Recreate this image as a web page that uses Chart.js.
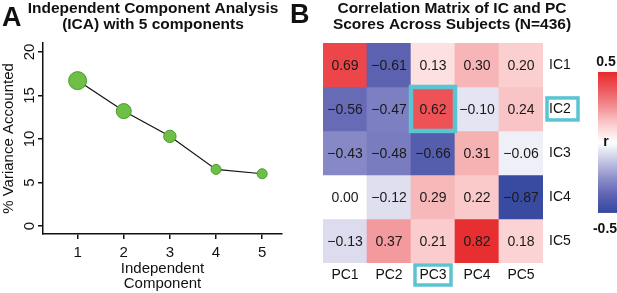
<!DOCTYPE html>
<html>
<head>
<meta charset="utf-8">
<script src="https://cdn.jsdelivr.net/npm/chart.js@4"></script>
<style>
  body { margin: 0; background: #fff; width: 617px; height: 293px; position: relative; overflow: hidden; font-family: 'Liberation Sans', Arial, sans-serif; }
  canvas { position: absolute; top: 0; }
  #icaChart { left: 0; }
  #corrChart { left: 292px; }
  .panel { position: absolute; font-weight: bold; font-size: 27px; line-height: 1; color: #111; }
</style>
</head>
<body>
<canvas id="icaChart" width="292" height="293"></canvas>
<canvas id="corrChart" width="325" height="293"></canvas>
<div class="panel" style="left:2px; top:4px">A</div>
<div class="panel" style="left:290px; top:1px">B</div>
<script>
// panel A: variance explained by each independent component
const components = [1, 2, 3, 4, 5];
const variancePct = [16.7, 13.2, 10.3, 6.5, 6.0];
const pointSizes = [9, 7.5, 6.2, 5, 5];
const xTicks = [1, 2, 3, 4, 5];
const yTicks = [0, 5, 10, 15, 20];

// panel B: correlation of IC scores (rows) with PC scores (cols)
const pcLabels = ['PC1', 'PC2', 'PC3', 'PC4', 'PC5'];
const icLabels = ['IC1', 'IC2', 'IC3', 'IC4', 'IC5'];
const ic1 = [0.69, -0.61, 0.13, 0.30, 0.20];
const ic2 = [-0.56, -0.47, 0.62, -0.10, 0.24];
const ic3 = [-0.43, -0.48, -0.66, 0.31, -0.06];
const ic4 = [0.00, -0.12, 0.29, 0.22, -0.87];
const ic5 = [-0.13, 0.37, 0.21, 0.82, 0.18];
const corrRows = [ic1, ic2, ic3, ic4, ic5];
const cbarTicks = [0.5, -0.5];
const highlightIC = 'IC2';
const highlightPC = 'PC3';

const FONT = "'Liberation Sans', Arial, sans-serif";
const INK = '#111';
Chart.defaults.font.family = FONT;
Chart.defaults.color = INK;

// palette: white at 0, red for positive r, blue for negative r
const redStops = [[0, [255, 255, 255]], [0.13, [253, 224, 224]], [0.3, [247, 181, 183]], [0.37, [242, 154, 158]], [0.62, [238, 82, 87]], [0.85, [230, 42, 44]]];
const blueStops = [[0, [255, 255, 255]], [0.13, [220, 220, 238]], [0.45, [129, 131, 196]], [0.6, [93, 98, 177]], [0.9, [52, 72, 158]]];

function corrColor(v) {
  const stops = v >= 0 ? redStops : blueStops;
  const last = stops[stops.length - 1];
  const a = Math.min(Math.abs(v), last[0]);
  for (let i = 1; i < stops.length; i++) {
    if (a <= stops[i][0]) {
      const [a0, c0] = stops[i - 1];
      const [a1, c1] = stops[i];
      const t = (a - a0) / (a1 - a0);
      return 'rgb(' + c0.map((x, k) => Math.round(x + (c1[k] - x) * t)).join(',') + ')';
    }
  }
  return 'rgb(' + last[1].join(',') + ')';
}

const titleOpts = text => ({
  display: true,
  text: text,
  font: { size: 15.5, weight: 'bold', lineHeight: 1.03 },
  color: INK,
  padding: { top: 1, bottom: 10 }
});

// R-style y tick labels, rotated to read bottom-to-top
const rotatedYTicks = {
  id: 'rotatedYTicks',
  afterDraw(chart) {
    const ys = chart.scales.y;
    const ctx = chart.ctx;
    ctx.save();
    ctx.font = '15px ' + FONT;
    ctx.fillStyle = INK;
    ctx.textAlign = 'center';
    ctx.textBaseline = 'middle';
    yTicks.forEach(v => {
      ctx.save();
      ctx.translate(ys.right - 13, ys.getPixelForValue(v));
      ctx.rotate(-Math.PI / 2);
      ctx.fillText(String(v), 0, 0);
      ctx.restore();
    });
    ctx.restore();
  }
};

new Chart(document.getElementById('icaChart'), {
  type: 'line',
  data: {
    datasets: [{
      data: components.map((c, i) => ({ x: c, y: variancePct[i] })),
      borderColor: INK,
      borderWidth: 1.2,
      tension: 0,
      pointRadius: pointSizes,
      pointBackgroundColor: '#6dbf45',
      pointBorderColor: '#4c9a2f',
      pointBorderWidth: 1
    }]
  },
  options: {
    responsive: false,
    animation: false,
    layout: { padding: { left: 21, right: 7, top: 0, bottom: 0 } },
    plugins: {
      legend: { display: false },
      tooltip: { enabled: false },
      title: titleOpts(['Independent Component Analysis', '(ICA) with 5 components'])
    },
    scales: {
      x: {
        type: 'linear',
        min: 0.25,
        max: 5.43,
        afterBuildTicks: s => { s.ticks = xTicks.map(v => ({ value: v })); },
        afterFit: s => { s.height = 59; },
        ticks: { font: { size: 15 }, color: INK, padding: 5 },
        grid: { drawOnChartArea: false, tickLength: 5, color: INK, lineWidth: 1.5 },
        border: { color: INK, width: 1.5 },
        title: { display: true, text: ['Independent', 'Component'], font: { size: 15, lineHeight: 1 }, color: INK, padding: { top: 0, bottom: 2 } }
      },
      y: {
        min: -0.92,
        max: 21.03,
        afterBuildTicks: s => { s.ticks = yTicks.map(v => ({ value: v })); },
        afterFit: s => { s.width = 22; },
        ticks: { display: false },
        grid: { drawOnChartArea: false, tickLength: 5, color: INK, lineWidth: 1.5 },
        border: { color: INK, width: 1.5 },
        title: { display: true, text: '% Variance Accounted', font: { size: 15 }, color: INK, padding: { top: -21, bottom: 0 } }
      }
    }
  },
  plugins: [rotatedYTicks]
});

const corrPlugin = {
  id: 'corrPlugin',
  afterDatasetsDraw(chart) {
    const ctx = chart.ctx;
    const area = chart.chartArea;
    ctx.save();

    // cell values
    ctx.font = '14px ' + FONT;
    ctx.fillStyle = '#1a1a1a';
    ctx.textAlign = 'center';
    ctx.textBaseline = 'middle';
    chart.data.datasets.forEach((ds, i) => {
      chart.getDatasetMeta(i).data.forEach((el, j) => {
        const txt = ds.corr[j].toFixed(2).replace('-', '\u2212');
        ctx.fillText(txt, el.x, (el.y + el.base) / 2 + 1);
      });
    });

    // highlighted cell and its labels
    const row = icLabels.indexOf(highlightIC);
    const col = pcLabels.indexOf(highlightPC);
    const cell = chart.getDatasetMeta(row).data[col];
    const top = Math.min(cell.y, cell.base), bot = Math.max(cell.y, cell.base);
    ctx.strokeStyle = '#5bc4d3';
    ctx.lineWidth = 4.5;
    ctx.strokeRect(cell.x - cell.width / 2, top, cell.width, bot - top);

    ctx.lineWidth = 3.5;
    const ys = chart.scales.y;
    const py = ys.getPixelForValue(row + 1);
    ctx.strokeRect(ys.left + 4, py - 11, 31, 22);
    const px = chart.scales.x.getPixelForValue(col);
    ctx.strokeRect(px - 18, area.bottom + 2, 36, 20);

    // colour bar
    const bx = area.right + 55, bw = 19, by0 = area.top + 29, by1 = area.top + 170;
    const grad = ctx.createLinearGradient(0, by0, 0, by1);
    const steps = [0.9, 0.6, 0.4, 0.2, 0, -0.2, -0.4, -0.6, -0.9];
    steps.forEach((v, k) => grad.addColorStop(k / (steps.length - 1), corrColor(v)));
    ctx.fillStyle = grad;
    ctx.fillRect(bx, by0, bw, by1 - by0);

    ctx.fillStyle = INK;
    ctx.font = 'bold 14px ' + FONT;
    ctx.fillText(cbarTicks[0].toFixed(1), bx + 8, by0 - 10);
    ctx.fillText('-' + Math.abs(cbarTicks[1]).toFixed(1), bx + 7, by1 + 16);
    ctx.fillText('r', bx + 8, (by0 + by1) / 2);
    ctx.restore();
  }
};

new Chart(document.getElementById('corrChart'), {
  type: 'bar',
  data: {
    labels: pcLabels,
    datasets: corrRows.map((r, i) => ({
      label: icLabels[i],
      data: r.map(() => [i + 0.5, i + 1.5]),
      corr: r,
      backgroundColor: r.map(corrColor),
      yAxisID: 'y',
      borderWidth: 0,
      barPercentage: 1,
      categoryPercentage: 1,
      grouped: false
    }))
  },
  options: {
    responsive: false,
    animation: false,
    layout: { padding: { left: 0, right: 5, top: 0, bottom: 0 } },
    plugins: {
      legend: { display: false },
      tooltip: { enabled: false },
      title: titleOpts(['Correlation Matrix of IC and PC', 'Scores Across Subjects (N=436)'])
    },
    scales: {
      x: {
        grid: { display: false, drawTicks: false },
        border: { display: false },
        ticks: { font: { size: 14 }, color: INK, padding: 4 },
        afterFit: s => { s.height = 30; }
      },
      y: {
        position: 'right',
        min: 0.5,
        max: 5.5,
        reverse: true,
        afterBuildTicks: s => { s.ticks = icLabels.map((l, i) => ({ value: i + 1 })); },
        afterFit: s => { s.width = 69; },
        ticks: { font: { size: 14 }, color: INK, padding: 6, callback: v => icLabels[v - 1] },
        grid: { display: false, drawTicks: false },
        border: { display: false }
      },
      yPad: {
        position: 'left',
        grid: { display: false },
        border: { display: false },
        ticks: { display: false },
        afterFit: s => { s.width = 31; }
      }
    }
  },
  plugins: [corrPlugin]
});
</script>
</body>
</html>
